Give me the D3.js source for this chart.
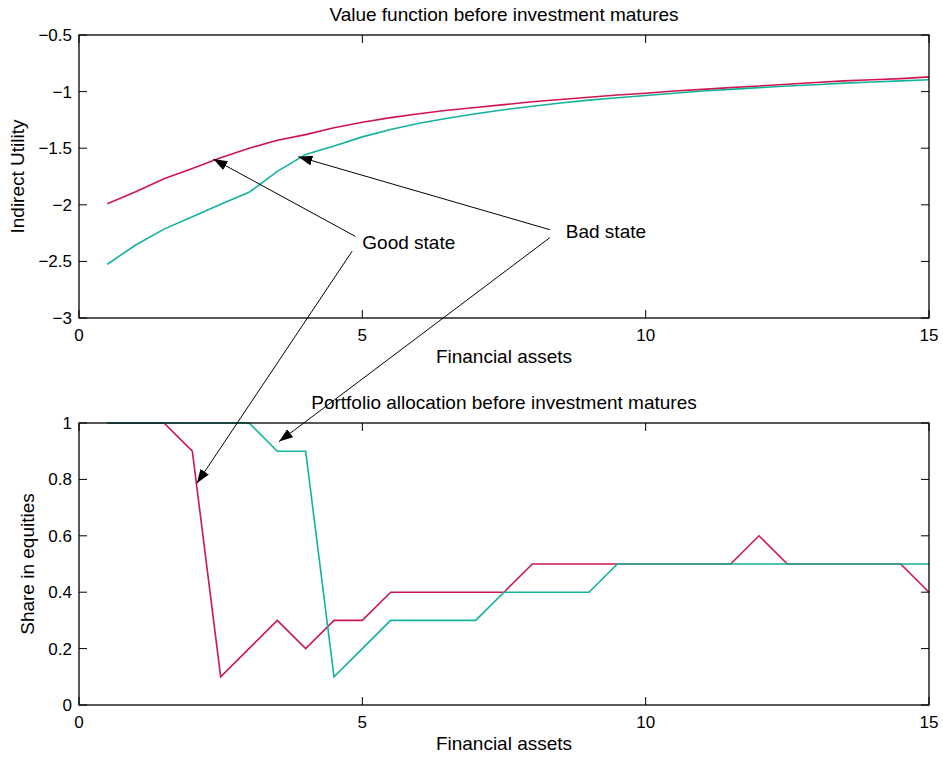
<!DOCTYPE html>
<html>
<head>
<meta charset="utf-8">
<script src="https://cdn.jsdelivr.net/npm/d3@7"></script>
<style>
  html, body { margin: 0; padding: 0; background: #fff; }
  svg { display: block; }
  text { font-family: "Liberation Sans", Arial, Helvetica, sans-serif; fill: #000; }
</style>
</head>
<body>
<svg id="chart" width="943" height="758"></svg>
<script>
// Financial assets grid (0.5 .. 15 in steps of 0.5)
const assets = [0.5, 1, 1.5, 2, 2.5, 3, 3.5, 4, 4.5, 5, 5.5, 6, 6.5, 7, 7.5, 8, 8.5, 9, 9.5, 10,
                10.5, 11, 11.5, 12, 12.5, 13, 13.5, 14, 14.5, 15];

// Value function (indirect utility)
const valueGood = [-1.99, -1.885, -1.77, -1.68, -1.585, -1.5, -1.43, -1.38, -1.32, -1.27, -1.23, -1.195,
                   -1.165, -1.14, -1.115, -1.09, -1.07, -1.05, -1.03, -1.015, -0.995, -0.98, -0.965, -0.95,
                   -0.935, -0.92, -0.905, -0.895, -0.885, -0.87];
const valueBad  = [-2.525, -2.355, -2.215, -2.105, -1.995, -1.89, -1.705, -1.555, -1.48, -1.4, -1.335, -1.28,
                   -1.235, -1.195, -1.16, -1.13, -1.1, -1.075, -1.055, -1.035, -1.015, -0.995, -0.98, -0.965,
                   -0.95, -0.94, -0.925, -0.915, -0.905, -0.895];

// Portfolio allocation (share in equities)
const shareGood = [1, 1, 1, 0.9, 0.1, 0.2, 0.3, 0.2, 0.3, 0.3, 0.4, 0.4, 0.4, 0.4, 0.4, 0.5, 0.5, 0.5, 0.5, 0.5,
                   0.5, 0.5, 0.5, 0.6, 0.5, 0.5, 0.5, 0.5, 0.5, 0.4];
const shareBad  = [1, 1, 1, 1, 1, 1, 0.9, 0.9, 0.1, 0.2, 0.3, 0.3, 0.3, 0.3, 0.4, 0.4, 0.4, 0.4, 0.5, 0.5,
                   0.5, 0.5, 0.5, 0.5, 0.5, 0.5, 0.5, 0.5, 0.5, 0.5];

// Tick values
const xTicks = [0, 5, 10, 15];
const valueTicks = [-3, -2.5, -2, -1.5, -1, -0.5];
const shareTicks = [0, 0.2, 0.4, 0.6, 0.8, 1];

const titles = ["Value function before investment matures", "Portfolio allocation before investment matures"];
const yLabels = ["Indirect Utility", "Share in equities"];
const xLabel = "Financial assets";

const colGood = "#d0154f";
const colBad = "#12b29e";
const labelSize = 19;

const svg = d3.select("#chart");
const fmt = v => (v < 0 ? "\u2212" : "") + d3.format("")(Math.abs(v));

const x = d3.scaleLinear().domain([0, 15]).range([79, 929]);
const yTop = d3.scaleLinear().domain([-3, -0.5]).range([318, 35]);
const yBot = d3.scaleLinear().domain([0, 1]).range([705, 423]);

function panel(y, yTicks, good, bad, title, ylab, ylabX) {
  const g = svg.append("g");
  const [y0, y1] = y.range();
  const [x0, x1] = x.range();
  const tl = 8;

  // series
  const line = vals => d3.line().x((d, i) => x(assets[i])).y(d => y(d))(vals);
  g.append("path").attr("d", line(good)).attr("fill", "none")
    .attr("stroke", colGood).attr("stroke-width", 1.6);
  g.append("path").attr("d", line(bad)).attr("fill", "none")
    .attr("stroke", colBad).attr("stroke-width", 1.6);

  // frame
  g.append("rect").attr("x", x0).attr("y", y1).attr("width", x1 - x0).attr("height", y0 - y1)
    .attr("fill", "none").attr("stroke", "#000").attr("stroke-width", 1.3);

  // x ticks (bottom + mirrored top)
  xTicks.forEach(t => {
    g.append("line").attr("x1", x(t)).attr("x2", x(t)).attr("y1", y0).attr("y2", y0 - tl)
      .attr("stroke", "#000").attr("stroke-width", 1);
    g.append("line").attr("x1", x(t)).attr("x2", x(t)).attr("y1", y1).attr("y2", y1 + tl)
      .attr("stroke", "#000").attr("stroke-width", 1);
    g.append("text").attr("x", x(t)).attr("y", y0 + 23).attr("text-anchor", "middle")
      .attr("font-size", 17).text(fmt(t));
  });
  // y ticks (left + mirrored right)
  yTicks.forEach(t => {
    g.append("line").attr("x1", x0).attr("x2", x0 + tl).attr("y1", y(t)).attr("y2", y(t))
      .attr("stroke", "#000").attr("stroke-width", 1);
    g.append("line").attr("x1", x1).attr("x2", x1 - tl).attr("y1", y(t)).attr("y2", y(t))
      .attr("stroke", "#000").attr("stroke-width", 1);
    g.append("text").attr("x", x0 - 7).attr("y", y(t) + 6).attr("text-anchor", "end")
      .attr("font-size", 17).text(fmt(t));
  });

  g.append("text").attr("x", (x0 + x1) / 2).attr("y", y1 - 14).attr("text-anchor", "middle")
    .attr("font-size", labelSize).text(title);
  g.append("text").attr("x", (x0 + x1) / 2).attr("y", y0 + 45).attr("text-anchor", "middle")
    .attr("font-size", labelSize).text(xLabel);
  g.append("text").attr("transform", `translate(${ylabX},${(y0 + y1) / 2}) rotate(-90)`)
    .attr("text-anchor", "middle").attr("font-size", labelSize).text(ylab);
}

panel(yTop, valueTicks, valueGood, valueBad, titles[0], yLabels[0], 24);
panel(yBot, shareTicks, shareGood, shareBad, titles[1], yLabels[1], 34);

// Annotations: label position (top-panel data units) and arrow tips on the curves
const labels = [
  { text: "Good state", lx: 5.0, ly: -2.39,
    arrows: [ { from: [4.88, -2.28], tip: [2.37, -1.595], panel: "top" },
              { from: [4.82, -2.41], tip: [2.08, 0.786], panel: "bot" } ] },
  { text: "Bad state", lx: 8.59, ly: -2.293,
    arrows: [ { from: [8.31, -2.22], tip: [3.87, -1.575], panel: "top" },
              { from: [8.31, -2.29], tip: [3.53, 0.934], panel: "bot" } ] }
];

svg.append("defs").append("marker")
  .attr("id", "head").attr("viewBox", "0 0 14 10").attr("refX", 14).attr("refY", 5)
  .attr("markerWidth", 14).attr("markerHeight", 10).attr("markerUnits", "userSpaceOnUse")
  .attr("orient", "auto")
  .append("path").attr("d", "M0,0 L14,5 L0,10 Z").attr("fill", "#000");

labels.forEach(l => {
  svg.append("text").attr("x", x(l.lx)).attr("y", yTop(l.ly)).attr("font-size", labelSize).text(l.text);
  l.arrows.forEach(a => {
    const ty = a.panel === "top" ? yTop : yBot;
    svg.append("line")
      .attr("x1", x(a.from[0])).attr("y1", yTop(a.from[1]))
      .attr("x2", x(a.tip[0])).attr("y2", ty(a.tip[1]))
      .attr("stroke", "#000").attr("stroke-width", 1)
      .attr("marker-end", "url(#head)");
  });
});
</script>
</body>
</html>
